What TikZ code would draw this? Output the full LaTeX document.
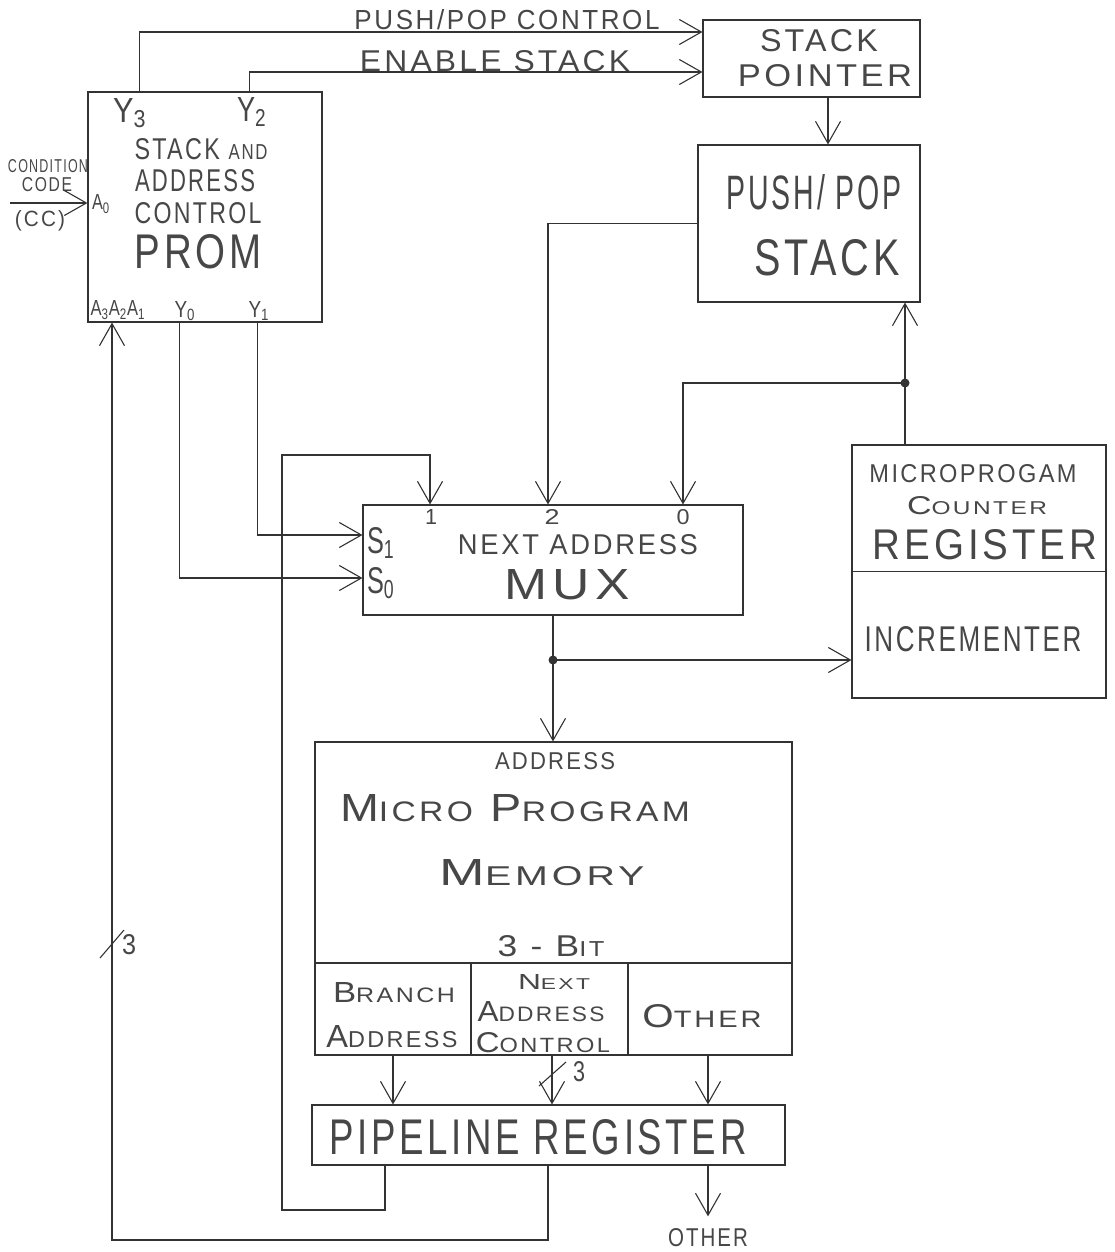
\documentclass[tikz,border=0pt]{standalone}
\usepackage{fontspec}
\setmainfont{Liberation Sans}
\newfontfamily\hand[LetterSpace=10]{Liberation Sans}
\usepackage{graphicx}
\usetikzlibrary{arrows.meta}
\newcommand\fitt[3]{\resizebox{#1pt}{#2pt}{\hand #3}}
\newcommand\sm[1]{\scalebox{0.72}{#1}}
\tikzset{>={Straight Barb[length=22pt,width=25pt]}}
\begin{document}
\begin{tikzpicture}[x=1pt,y=-1pt,line width=1.1pt,
  box/.style={draw=black!80,inner sep=0pt},
  txt/.style={inner sep=0pt,text=black!72},
  arr/.style={draw=black!80,->},
  wire/.style={draw=black!80}]
\fill[white] (0,0) rectangle (1114,1252);
\useasboundingbox (0,0) rectangle (1114,1252);

% ---------- boxes ----------
\node[box,minimum width=234pt,minimum height=230pt] (prom) at (205,207) {};
\node[box,minimum width=217pt,minimum height=77pt] (sp) at (811.5,58.5) {};
\node[box,minimum width=222pt,minimum height=157pt] (pps) at (809,223.5) {};
\node[box,minimum width=380pt,minimum height=110pt] (mux) at (553,560) {};
\node[box,minimum width=254pt,minimum height=253pt] (reg) at (979,571.5) {};
\node[box,minimum width=477pt,minimum height=313pt] (mem) at (553.5,898.5) {};
\node[box,minimum width=473pt,minimum height=60pt] (pipe) at (548.5,1135) {};

% dividers
\draw[wire] (reg.west) -- (reg.east);
\draw[wire] ([yshift=-64.5pt]mem.west) -- ([yshift=-64.5pt]mem.east);
\draw[wire] ([xshift=-82.5pt]mem.south) -- ++(0,-92);
\draw[wire] ([xshift=74.5pt]mem.south) -- ++(0,-92);

% ---------- texts ----------
\node[txt] (tpp) at (507,20) {\fitt{305}{20}{PUSH/POP CONTROL}};
\node[txt] (ten) at (495,61) {\fitt{270}{21}{ENABLE STACK}};
\node[txt] (sp1) at (819,41) {\fitt{118}{22}{STACK}};
\node[txt] (sp2) at (825,76) {\fitt{174}{22}{POINTER}};
\node[txt] (y3) at (130,113) {\fitt{34}{24}{Y\textsubscript{3}}};
\node[txt] (y2) at (252,112) {\fitt{30}{24}{Y\textsubscript{2}}};
\node[txt] (p1) at (201,149) {\fitt{133}{21}{STACK \sm{AND}}};
\node[txt] (p2) at (195,181) {\fitt{120}{22}{ADDRESS}};
\node[txt] (p3) at (198,213) {\fitt{127}{21}{CONTROL}};
\node[txt] (p4) at (198,252) {\fitt{127}{34}{PROM}};
\node[txt] (cc1) at (48,166) {\fitt{80}{13}{CONDITION}};
\node[txt] (cc2) at (47,185) {\fitt{50}{14}{CODE}};
\node[txt] (cc3) at (40,221) {\fitt{50}{16}{(CC)}};
\node[txt] (a0) at (101,204) {\fitt{18}{15}{A\textsubscript{0}}};
\node[txt] (a321) at (118,310) {\fitt{55}{15}{A\textsubscript{3}A\textsubscript{2}A\textsubscript{1}}};
\node[txt] (y0) at (185,311) {\fitt{21}{16}{Y\textsubscript{0}}};
\node[txt] (y1) at (259,311) {\fitt{21}{16}{Y\textsubscript{1}}};
\node[txt] (s1) at (814,192) {\fitt{175}{35}{PUSH/ POP}};
\node[txt] (s2) at (827,258) {\fitt{145}{36}{STACK}};
\node[txt] (i1) at (431,517) {\fitt{12}{15}{1}};
\node[txt] (i2) at (552,517) {\fitt{15}{15}{2}};
\node[txt] (i0) at (683,517) {\fitt{13}{15}{0}};
\node[txt] (ss1) at (381,543) {\fitt{28}{26}{S\textsubscript{1}}};
\node[txt] (ss0) at (381,583) {\fitt{28}{26}{S\textsubscript{0}}};
\node[txt] (m1) at (578,545) {\fitt{240}{20}{NEXT ADDRESS}};
\node[txt] (m2) at (567,585) {\fitt{125}{30}{MUX}};
\node[txt] (r1) at (973,474) {\fitt{207}{18}{MICROPROGAM}};
\node[txt] (r2) at (977,506) {\fitt{140}{18}{C\sm{OUNTER}}};
\node[txt] (r3) at (985,545) {\fitt{224}{30}{REGISTER}};
\node[txt] (r4) at (973,639) {\fitt{217}{25}{INCREMENTER}};
\node[txt] (e1) at (555,761) {\fitt{120}{17}{ADDRESS}};
\node[txt] (e2) at (515,808) {\fitt{350}{27}{M\sm{ICRO} P\sm{ROGRAM}}};
\node[txt] (e3) at (542,873) {\fitt{205}{26}{M\sm{EMORY}}};
\node[txt] (e4) at (551,946) {\fitt{107}{21}{3 - B\sm{IT}}};
\node[txt] (b1) at (394,993) {\fitt{122}{20}{B\sm{RANCH}}};
\node[txt] (b2) at (392,1037) {\fitt{131}{22}{A\sm{DDRESS}}};
\node[txt] (n1) at (554,982) {\fitt{72}{15}{N\sm{EXT}}};
\node[txt] (n2) at (541,1012) {\fitt{127}{20}{A\sm{DDRESS}}};
\node[txt] (n3) at (543,1043) {\fitt{134}{20}{C\sm{ONTROL}}};
\node[txt] (o1) at (702,1016) {\fitt{119}{23}{O\sm{THER}}};
\node[txt] (pl) at (538,1137) {\fitt{417}{35}{PIPELINE REGISTER}};
\node[txt] (oth) at (708,1238) {\fitt{80}{18}{OTHER}};
\node[txt] (three1) at (129,945) {\fitt{14}{20}{3}};
\node[txt] (three2) at (579,1072) {\fitt{12}{20}{3}};

% ---------- connectors ----------
\draw[arr] ([xshift=52pt]prom.north west) |- ([yshift=26.5pt]sp.west);
\draw[arr] ([xshift=162pt]prom.north west) |- ([yshift=-13.5pt]sp.west);
\draw[arr] ([xshift=16.5pt]sp.south) -- ([xshift=16.5pt]sp.south |- pps.north);
\draw[arr] (pps.west) -| ([xshift=-5pt]mux.north);

\coordinate (j1) at (905,383);
\draw[wire] (reg.north -| j1) -- (j1);
\draw[arr] (j1) -- (j1 |- pps.south);
\draw[arr] (j1) -| ([xshift=130pt]mux.north);
\fill[black!80] (j1) circle (4.5pt);

\coordinate (l1) at (282,1210);
\coordinate (l2) at (282,455);
\draw[arr] ([xshift=-163.5pt]pipe.south) |- (l1) -- (l2) -| ([xshift=-123pt]mux.north);

\draw[arr] ([xshift=92pt]prom.south west) |- ([yshift=-18pt]mux.west);
\draw[arr] ([xshift=170pt]prom.south west) |- ([yshift=25pt]mux.west);

\coordinate (j2) at (553,660);
\draw[arr] (mux.south) -- (mux.south |- mem.north);
\draw[arr] (j2) -- (j2 -| reg.west);
\fill[black!80] (j2) circle (4.5pt);

\coordinate (cc) at (10,203);
\draw[arr] (cc) -- (cc -| prom.west);

\draw[arr] ([xshift=-160.5pt]mem.south) -- ([xshift=-160.5pt]mem.south |- pipe.north);
\draw[arr] ([xshift=-1.5pt]mem.south) -- ([xshift=-1.5pt]mem.south |- pipe.north);
\draw[arr] ([xshift=154.5pt]mem.south) -- ([xshift=154.5pt]mem.south |- pipe.north);
\draw[arr] ([xshift=159.5pt]pipe.south) -- ([yshift=12pt]oth.north);

\coordinate (l3) at (112,1240);
\draw[arr] ([xshift=-0.5pt]pipe.south) |- (l3) -- (l3 |- prom.south);

% bus slashes
\draw[wire] (100,958) -- (124,930);
\draw[wire] (539,1086) -- (566,1062);
\end{tikzpicture}
\end{document}
